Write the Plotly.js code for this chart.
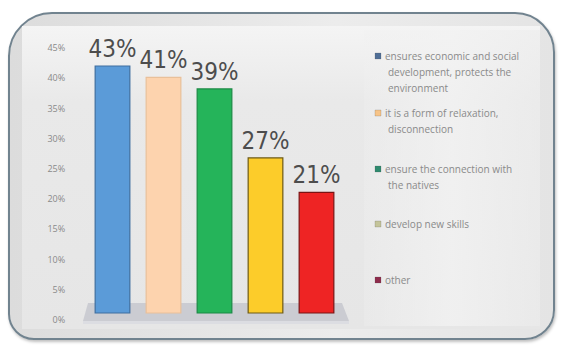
<!DOCTYPE html>
<html><head><meta charset="utf-8">
<script src="https://cdn.plot.ly/plotly-3.0.1.min.js"></script>
<style>
html,body{margin:0;padding:0;background:#fff;width:561px;height:345px;overflow:hidden}
#frame{position:absolute;left:8px;top:12px;width:543px;height:324px;border:2px solid #71838f;border-radius:44px 40px 30px 26px;background:linear-gradient(90deg,#dcdcdc,#ececec 60%,#e4e4e4);box-shadow:1px 2px 3px rgba(0,0,0,0.25)}
#panel{position:absolute;left:22px;top:26px;width:518px;height:303px;background:linear-gradient(180deg,#f4f4f4,#e9e9e9 25%,#e6e6e6);}
#legendpanel{position:absolute;left:364px;top:30px;width:176px;height:296px;background:linear-gradient(90deg,rgba(240,240,240,0.3),rgba(242,242,242,0.8) 50%,rgba(236,236,236,0.6));}
#chart{position:absolute;left:0;top:0;width:561px;height:345px}
#chart .bars text{font-stretch:condensed !important;}
</style>
</head><body>
<div id="frame"></div><div id="panel"></div><div id="legendpanel"></div>
<div id="chart"></div>
<script>
var categories = ["ensures economic and social development, protects the environment",
  "it is a form of relaxation, disconnection",
  "ensure the connection with the natives",
  "develop new skills",
  "other"];
var values = [43, 41, 39, 27, 21];
var valueLabels = ["43%", "41%", "39%", "27%", "21%"];
var legendLines = [
  ["ensures economic and social", "development, protects the", "environment"],
  ["it is a form of relaxation,", "disconnection"],
  ["ensure the connection with", "the natives"],
  ["develop new skills"],
  ["other"]
];
var tickValues = [0, 5, 10, 15, 20, 25, 30, 35, 40, 45];
var tickLabels = ["0%", "5%", "10%", "15%", "20%", "25%", "30%", "35%", "40%", "45%"];
var barColors = ["#5b9bd8", "#fdd3ae", "#25b45a", "#fccc2a", "#ee2424"];
var barEdges = ["#3f6f9f", "#e9c09a", "#1b8a44", "#6e5a12", "#7a1414"];
var legendColors = ["#4f6e96", "#f7c488", "#2e8a6e", "#c4c49a", "#8e2c4c"];

// plot area in pixels
var L = 87, R = 342, T = 48, B = 320;
function px2x(p){ return (p - L) / (R - L); }
function px2y(p){ return (B - p) / (B - T); }

var shapes = [];
shapes.push({type:'path', xref:'paper', yref:'paper', layer:'below',
  path:'M'+px2x(83)+','+px2y(321)+' L'+px2x(349)+','+px2y(321)+' L'+px2x(342)+','+px2y(303)+' L'+px2x(88)+','+px2y(303)+' Z',
  fillcolor:'#cbccd2', line:{width:0}});
shapes.push({type:'rect', xref:'paper', yref:'paper', layer:'below',
  x0:px2x(83), x1:px2x(349), y0:px2y(324), y1:px2y(321), fillcolor:'#dcdde2', line:{width:0}});

var annotations = [];
var legendY = [56, 113, 169, 224, 280];
legendLines.forEach(function(lines, i){
  var y0 = legendY[i];
  shapes.push({type:'rect', xref:'paper', yref:'paper',
    x0:px2x(375), x1:px2x(381), y0:px2y(y0+3), y1:px2y(y0-3),
    fillcolor:legendColors[i], line:{color:'rgba(80,80,80,0.4)', width:0.5}});
  lines.forEach(function(t, j){
    annotations.push({xref:'paper', yref:'paper', x:px2x(j===0?383:386), y:px2y(y0 + j*16),
      xanchor:'left', yanchor:'middle', showarrow:false, text:t,
      font:{family:'Open Sans', size:10, color:'#8a8a8a'}});
  });
});

var bars = {type:'bar', x:categories, y:values, yaxis:'y2',
  width:0.68,
  marker:{color:barColors, line:{color:barEdges, width:1.2}},
  text:valueLabels, textposition:'outside', constraintext:'none', cliponaxis:false,
  textfont:{family:'DejaVu Sans', size:24, color:'#4d4d4d'},
  hoverinfo:'none', showlegend:false};
var dummy = {type:'scatter', x:[categories[0]], y:[0], yaxis:'y', mode:'markers',
  marker:{opacity:0}, hoverinfo:'skip', showlegend:false};

var layout = {
  width:561, height:345,
  margin:{l:L, r:561-R, t:T, b:345-B, pad:0},
  paper_bgcolor:'rgba(0,0,0,0)', plot_bgcolor:'rgba(0,0,0,0)',
  showlegend:false,
  xaxis:{type:'category', range:[-0.5, 4.5], showticklabels:false, showgrid:false, zeroline:false, showline:false, ticks:''},
  yaxis:{range:[0,45], tickvals:tickValues, ticktext:tickLabels, showgrid:false, zeroline:false, showline:false,
    ticks:'outside', ticklen:19, tickcolor:'rgba(0,0,0,0)',
    tickfont:{family:'Open Sans', size:9, color:'#8a8a8a'}},
  yaxis2:{overlaying:'y', range:[-1.2186, 46.13], visible:false},
  shapes:shapes, annotations:annotations
};
Plotly.newPlot('chart', [dummy, bars], layout, {staticPlot:true, displayModeBar:false});
</script>
</body></html>
